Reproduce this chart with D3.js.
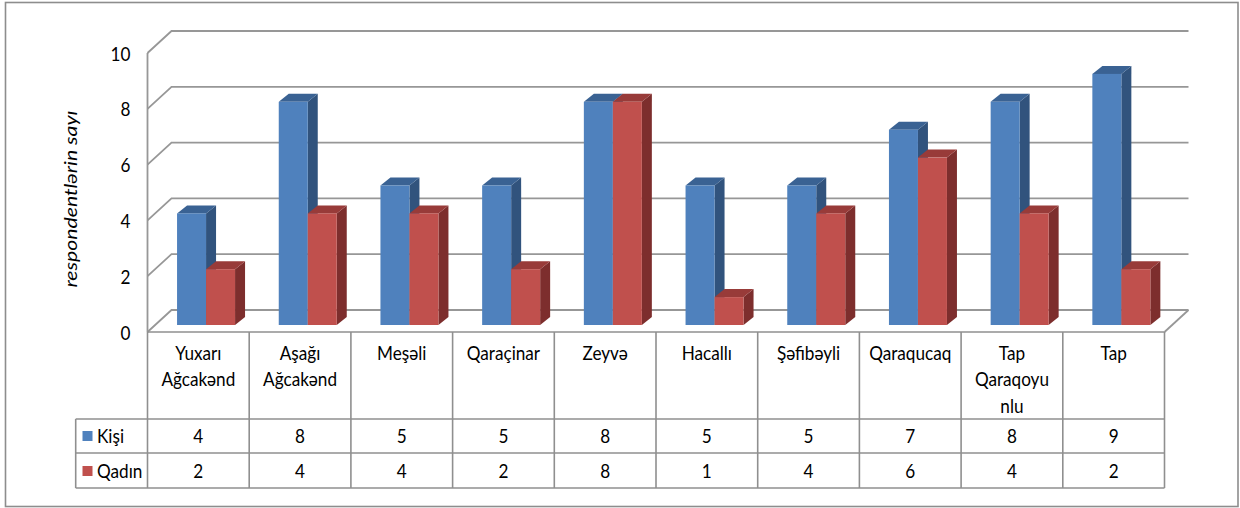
<!DOCTYPE html>
<html>
<head>
<meta charset="utf-8">
<script src="https://cdn.jsdelivr.net/npm/d3@7/dist/d3.min.js"></script>
<style>
  html, body { margin: 0; padding: 0; background: #fff; }
  svg { display: block; }
  text { font-family: Lato, "Open Sans", sans-serif; fill: #000; }
</style>
</head>
<body>
<svg id="chart" width="1240" height="508"></svg>
<script>
// ---- data ----
const categories = ["Yuxarı\nAğcakənd", "Aşağı\nAğcakənd", "Meşəli", "Qaraçinar", "Zeyvə", "Hacallı", "Şəfibəyli", "Qaraqucaq", "Tap\nQaraqoyu\nnlu", "Tap"];
const seriesNames = ["Kişi", "Qadın"];
const kisi  = [4, 8, 5, 5, 8, 5, 5, 7, 8, 9];
const qadin = [2, 4, 4, 2, 8, 1, 4, 6, 4, 2];
const yTicks = [0, 2, 4, 6, 8, 10];
const yTitle = "respondentlərin sayı";

// ---- styles ----
const colors = {
  Kişi:  { front: "#4f81bd", top: "#3a6293", side: "#31537d" },
  Qadın: { front: "#c0504d", top: "#983b39", side: "#7d2e2d" }
};
const gridColor = "#979797";
const tableColor = "#8f8f8f";
const FONT = 19.5;
const SX = 0.88;

const svg = d3.select("#chart");

function label(g, x, y, txt, anchor) {
  return g.append("text")
    .attr("transform", `translate(${x},${y}) scale(${SX},1)`)
    .attr("text-anchor", anchor || "middle")
    .attr("font-size", FONT)
    .text(txt);
}

// ---- geometry ----
const x = d3.scaleBand().domain(categories).range([147.5, 1164.5]).paddingInner(0).paddingOuter(0);
const yFront = d3.scaleLinear().domain([0, 10]).range([332, 53]);
const depth = { dx: 24, dy: -22 };
const barPlane = { dx: 7.7, dy: -7 };
const barDepth = { dx: 10, dy: -8 };
const barW = 29;

// outer frame
svg.append("rect").attr("x", 5.5).attr("y", 2.5).attr("width", 1232.5).attr("height", 504)
  .attr("fill", "none").attr("stroke", "#8d8d8d").attr("stroke-width", 1.6);

const x0 = x.range()[0], x1 = x.range()[1];

// back wall gridlines and side wall diagonals
const grid = svg.append("g").attr("stroke", gridColor).attr("stroke-width", 1.8).attr("fill", "none");
yTicks.forEach(v => {
  const yf = yFront(v);
  grid.append("path").attr("d", `M${x0},${yf}L${x0 + depth.dx},${yf + depth.dy}L${x1 + depth.dx},${yf + depth.dy}`);
});
grid.append("line").attr("x1", x0).attr("x2", x0).attr("y1", yFront(10)).attr("y2", yFront(0));
grid.append("line").attr("x1", x1).attr("y1", yFront(0)).attr("x2", x1 + depth.dx).attr("y2", yFront(0) + depth.dy);

// y axis labels
const yAxis = d3.axisLeft(yFront).tickValues(yTicks).tickSize(0).tickPadding(0);
const ag = svg.append("g").attr("transform", `translate(${x0},0)`).call(yAxis);
ag.select(".domain").remove();
ag.selectAll("text")
  .attr("font-size", FONT).attr("fill", "#000")
  .style("font-family", "Lato, sans-serif")
  .attr("x", 0).attr("dy", "0.36em")
  .attr("transform", `translate(-17,0) scale(${SX},1)`);

// y title
svg.append("text")
  .attr("transform", `translate(77,199) rotate(-90)`)
  .attr("text-anchor", "middle")
  .attr("font-size", 17.5).attr("font-style", "italic")
  .attr("textLength", 177).attr("lengthAdjust", "spacingAndGlyphs")
  .text(yTitle);

// bars
function bar(g, cx, v, c) {
  const yb0 = yFront(0) + barPlane.dy;
  const ybt = yFront(v) + barPlane.dy;
  const xl = cx, xr = cx + barW;
  const h = yb0 - ybt;
  g.append("path").attr("fill", c.side)
    .attr("d", `M${xr},${ybt}L${xr + barDepth.dx},${ybt + barDepth.dy}L${xr + barDepth.dx},${yb0 + barDepth.dy}L${xr},${yb0}Z`);
  g.append("path").attr("fill", c.top)
    .attr("d", `M${xl},${ybt}L${xl + barDepth.dx},${ybt + barDepth.dy}L${xr + barDepth.dx},${ybt + barDepth.dy}L${xr},${ybt}Z`);
  g.append("rect").attr("x", xl).attr("y", ybt).attr("width", barW).attr("height", h).attr("fill", c.front);
}
const bars = svg.append("g");
categories.forEach((cat, i) => {
  const center = x(cat) + x.bandwidth() / 2 + barPlane.dx;
  bar(bars, center - barW, kisi[i], colors["Kişi"]);
  bar(bars, center, qadin[i], colors["Qadın"]);
});

// ---- data table ----
const rowY = [332, 419, 453, 488];
const legendX = 75.7;
const tbl = svg.append("g").attr("stroke", tableColor).attr("stroke-width", 1.6).attr("fill", "none");
tbl.append("line").attr("x1", x0).attr("x2", x1).attr("y1", rowY[0]).attr("y2", rowY[0]);
[1, 2, 3].forEach(k => tbl.append("line").attr("x1", legendX).attr("x2", x1).attr("y1", rowY[k]).attr("y2", rowY[k]));
categories.forEach(cat => tbl.append("line").attr("x1", x(cat)).attr("x2", x(cat)).attr("y1", rowY[0]).attr("y2", rowY[3]));
tbl.append("line").attr("x1", x1).attr("x2", x1).attr("y1", rowY[0]).attr("y2", rowY[3]);
tbl.append("line").attr("x1", legendX).attr("x2", legendX).attr("y1", rowY[1]).attr("y2", rowY[3]);

const txt = svg.append("g");
categories.forEach(cat => {
  cat.split("\n").forEach((ln, j) => {
    label(txt, x(cat) + x.bandwidth() / 2, 359.5 + j * 26.5, ln);
  });
});

const rows = [kisi, qadin];
const rowBase = [443, 478];
rows.forEach((vals, r) => {
  categories.forEach((cat, i) => {
    label(txt, x(cat) + x.bandwidth() / 2, rowBase[r], vals[i]);
  });
  const name = seriesNames[r];
  svg.append("rect").attr("x", 82.5).attr("y", rowBase[r] - 12).attr("width", 10).attr("height", 10)
    .attr("fill", colors[name].front);
  label(txt, 97, rowBase[r], name, "start");
});
</script>
</body>
</html>
